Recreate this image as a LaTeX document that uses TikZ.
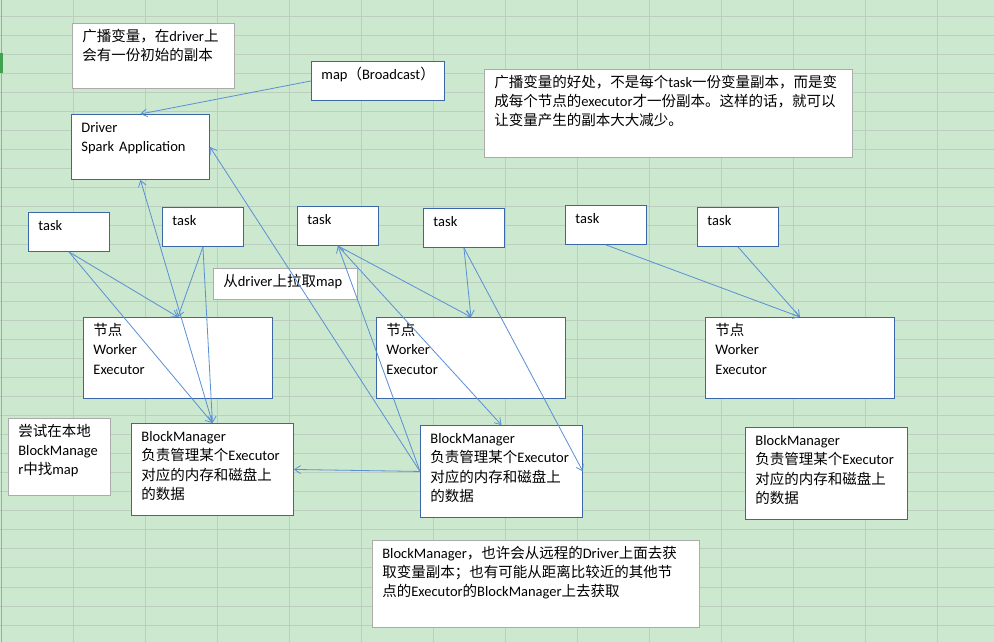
\documentclass[tikz,border=0pt]{standalone}
\usepackage{xcolor}
\usepackage{fontspec}
\setmainfont{Carlito}
\newfontfamily\cjk{Noto Sans CJK SC}
\newcommand{\zh}[1]{{\cjk #1}}
\usepackage{tikz}
\usetikzlibrary{arrows.meta}

\begin{document}
\begin{tikzpicture}[x=1pt, y=-1pt, font=\fontsize{14.5}{19.3}\selectfont, >={Straight Barb[length=6pt,width=8pt]}]
  \definecolor{sheet}{HTML}{CCE8CF}
  \definecolor{gridline}{HTML}{BCCFBE}
  \definecolor{edgeblue}{HTML}{3B67A8}
  \definecolor{linkblue}{HTML}{5B8FD3}
  \definecolor{memogray}{HTML}{ABABAB}
  \definecolor{marker}{HTML}{3FA34D}

  \tikzset{
    cell/.style={draw=edgeblue, line width=0.9pt, fill=white, anchor=north west, align=left, inner xsep=10pt, inner ysep=6pt, text height=12pt},
    memo/.style={cell, draw=memogray, line width=0.7pt},
    taskbox/.style={cell, text width=61pt, text depth=15pt},
    workerbox/.style={cell, text width=169pt, text depth=57pt},
    bmbox/.style={cell, text width=142pt, text depth=68pt},
    link/.style={->, draw=linkblue, line width=0.8pt}
  }

  \useasboundingbox (0,0) rectangle (994,642);

  % Sheet background
  \fill[sheet] (0,0) rectangle (994,642);
  \foreach \k in {0,...,32}
    \draw[gridline, line width=0.8pt] (0,16+19.03*\k) -- (994,16+19.03*\k);
  \foreach \k in {0,...,12}
    \draw[gridline, line width=0.8pt] (73+72*\k,0) -- (73+72*\k,642);
  \draw[gray!70, line width=1pt] (1,0) -- (1,642);
  \fill[marker] (0,53) rectangle (3,73);

  % Notes
  \node (note1) [memo, text width=142pt, text depth=41pt] at (72,23)
    {\zh{广播变量，在}driver\zh{上}\\\zh{会有一份初始的副本}};
  \node (note2) [memo, text width=348pt, text depth=64pt] at (484,69)
    {\zh{广播变量的好处，不是每个}task\zh{一份变量副本，而是变}\\\zh{成每个节点的}executor\zh{才一份副本。这样的话，就可以}\\\zh{让变量产生的副本大大减少。}};
  \node (note3) [memo, text width=82pt, text depth=53pt] at (8,418)
    {\zh{尝试在本地}\\BlockManage\\r\zh{中找}map};
  \node (note4) [memo, text width=124pt, text depth=7pt] at (213,268)
    {\zh{从}driver\zh{上拉取}map};
  \node (note5) [memo, text width=307pt, text depth=63pt] at (372,540)
    {BlockManager\zh{，也许会从远程的}Driver\zh{上面去获}\\\zh{取变量副本；也有可能从距离比较近的其他节}\\\zh{点的}Executor\zh{的}BlockManager\zh{上去获取}};

  % Driver side
  \node (map) [cell, text width=113pt, text depth=15pt] at (311,61) {map\zh{（}Broadcast\zh{）}};
  \node (driver) [cell, text width=118pt, text depth=41pt] at (71,114) {Driver\\Spark Application};

  % Tasks
  \node (task1) [taskbox] at (28,212) {task};
  \node (task2) [taskbox] at (162,207) {task};
  \node (task3) [taskbox] at (297,206) {task};
  \node (task4) [taskbox] at (423,208) {task};
  \node (task5) [taskbox] at (565,205) {task};
  \node (task6) [taskbox] at (697,207) {task};

  % Workers
  \node (worker1) [workerbox] at (83,317) {\zh{节点}\\Worker\\Executor};
  \node (worker2) [workerbox] at (376,317) {\zh{节点}\\Worker\\Executor};
  \node (worker3) [workerbox] at (705,317) {\zh{节点}\\Worker\\Executor};

  % Block managers
  \node (bm1) [bmbox] at (131,423) {BlockManager\\\zh{负责管理某个}Executor\\\zh{对应的内存和磁盘上}\\\zh{的数据}};
  \node (bm2) [bmbox] at (420,425) {BlockManager\\\zh{负责管理某个}Executor\\\zh{对应的内存和磁盘上}\\\zh{的数据}};
  \node (bm3) [bmbox] at (745,427) {BlockManager\\\zh{负责管理某个}Executor\\\zh{对应的内存和磁盘上}\\\zh{的数据}};

  % Arrows
  \draw[link] (map.west) -- (driver.north);
  \draw[link] (bm1.north) -- (driver.south);
  \draw[link] (bm2.west) -- (driver.east);
  \draw[link] (task1.south) -- (worker1.north);
  \draw[link] (task1.south) -- (bm1.north);
  \draw[link] (task2.south) -- (worker1.north);
  \draw[link] (task2.south) -- (bm1.north);
  \draw[link] (bm2.west) -- (bm1.east);
  \draw[link] (bm2.west) -- (task3.south);
  \draw[link] (task3.south) -- (worker2.north);
  \draw[link] (task3.south) -- (bm2.north);
  \draw[link] (task4.south) -- (worker2.north);
  \draw[link] (task4.south) -- (bm2.east);
  \draw[link] (task5.south) -- (worker3.north);
  \draw[link] (task6.south) -- (worker3.north);
\end{tikzpicture}
\end{document}
